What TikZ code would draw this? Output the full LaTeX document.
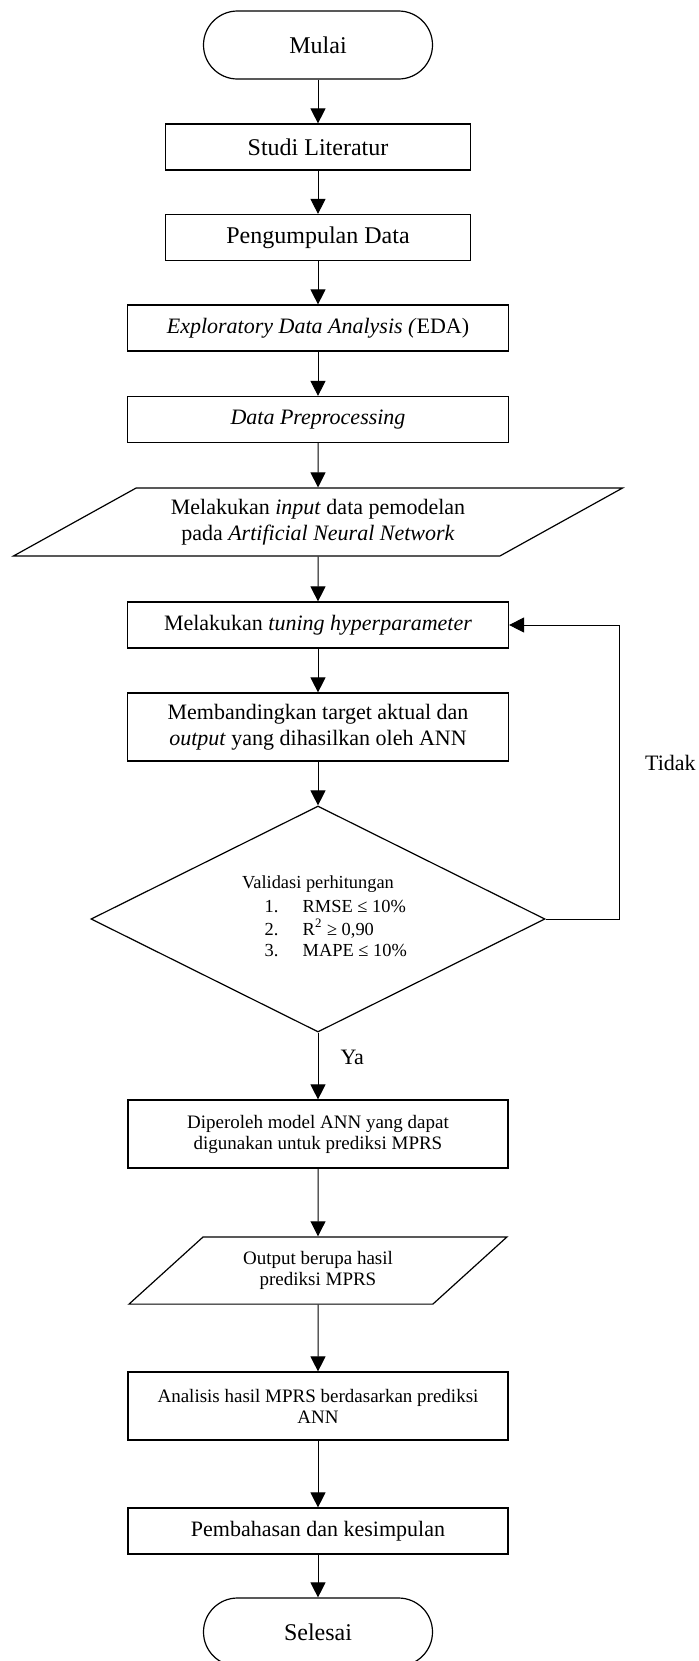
\documentclass[tikz,border=0pt]{standalone}
\usepackage{fontspec}
\setmainfont{Liberation Serif}
\usetikzlibrary{shapes.geometric, arrows.meta}
\tikzstyle{startstop} = [rectangle, rounded corners=17pt, minimum width=114.5pt, minimum height=34pt, text centered, draw=black, line width=0.6pt, font=\fontsize{12pt}{13pt}\selectfont]
\tikzstyle{process} = [rectangle, minimum width=190.5pt, minimum height=23pt, align=center, draw=black, line width=0.6pt, font=\fontsize{11pt}{13pt}\selectfont]
\tikzstyle{small} = [font=\fontsize{9.5pt}{10.5pt}\selectfont]
\tikzstyle{io} = [trapezium, trapezium stretches body, inner xsep=0pt, align=center, draw=black, line width=0.6pt, font=\fontsize{11pt}{13pt}\selectfont]
\tikzstyle{decision} = [diamond, aspect=2, inner sep=0pt, minimum width=227pt, minimum height=113pt, align=center, draw=black, line width=0.6pt, font=\fontsize{9.2pt}{10.5pt}\selectfont]
\tikzstyle{arrow} = [line width=0.5pt, -{Triangle[length=7.5pt,width=7.5pt]}]
\tikzstyle{answer} = [inner sep=0pt, anchor=west, font=\fontsize{11pt}{13pt}\selectfont]

\begin{document}
\begin{tikzpicture}[node distance=45.5pt]
          \useasboundingbox (0,0) rectangle (349pt,-830.5pt);
          \node (start) [startstop] at (159pt,-22.5pt) {Mulai}; %
          \node (stud)  [process, minimum width=152.5pt, font=\fontsize{12pt}{13pt}\selectfont, below of=start, node distance=51pt] {Studi Literatur}; %
          \node (data)  [process, minimum width=152.5pt, font=\fontsize{12pt}{13pt}\selectfont, below of=stud, node distance=45.25pt] {Pengumpulan Data}; %
          \node (eda)   [process, below of=data, node distance=45.25pt] {\textit{Exploratory Data Analysis (}EDA)}; %
          \node (prep)  [process, below of=eda, node distance=45.75pt] {\textit{Data Preprocessing}}; %
          \node (input) [io, trapezium left angle=29, trapezium right angle=151, minimum width=304.5pt, inner ysep=5.5pt, below of=prep, node distance=51.25pt] {Melakukan \textit{input} data pemodelan\\pada \textit{Artificial Neural Network}}; %
          \node (tune)  [process, below of=input, node distance=51.5pt] {Melakukan \textit{tuning hyperparameter}}; %
          \node (comp)  [process, minimum height=34pt, below of=tune, node distance=51pt] {Membandingkan target aktual dan\\\textit{output} yang dihasilkan oleh ANN}; %
          \node (valid) [decision, below of=comp, node distance=96pt] {Validasi perhitungan\\[2pt]
            \hspace*{17.8pt}\begin{tabular}{@{}p{19pt}@{}l@{}}
              1. & RMSE ≤ 10\% \\
              2. & R\textsuperscript{2} ≥ 0,90 \\
              3. & MAPE ≤ 10\%
            \end{tabular}}; %
          \node (model) [process, small, minimum width=190pt, minimum height=34pt, below of=valid, node distance=107.5pt] {Diperoleh model ANN yang dapat\\digunakan untuk prediksi MPRS}; %
          \node (out)   [io, small, trapezium left angle=42.2, trapezium right angle=137.8, minimum width=189pt, inner ysep=7.25pt, below of=model, node distance=68.25pt] {Output berupa hasil\\prediksi MPRS}; %
          \node (anal)  [process, small, minimum width=190pt, minimum height=34pt, below of=out, node distance=67.75pt] {Analisis hasil MPRS berdasarkan prediksi\\ANN}; %
          \node (disc)  [process, minimum width=190pt, below of=anal, node distance=62.5pt] {Pembahasan dan kesimpulan}; %
          \node (stop)  [startstop, below of=disc, node distance=50.5pt] {Selesai}; %

          %% Connections
          \draw [arrow] (start) -- (stud); %
          \draw [arrow] (stud)  -- (data); %
          \draw [arrow] (data)  -- (eda); %
          \draw [arrow] (eda)   -- (prep); %
          \draw [arrow] (prep)  -- (input); %
          \draw [arrow] (input) -- (tune); %
          \draw [arrow] (tune)  -- (comp); %
          \draw [arrow] (comp)  -- (valid); %
          \draw [arrow] (valid) -- node[answer, pos=0.37, xshift=11pt] {Ya} (model); %
          \draw [arrow] (valid.east) -- ++(37pt,0) |- node[answer, pos=0.265, xshift=12.5pt] {Tidak} (tune.east); %
          \draw [arrow] (model) -- (out); %
          \draw [arrow] (out)   -- (anal); %
          \draw [arrow] (anal)  -- (disc); %
          \draw [arrow] (disc)  -- (stop); %
        \end{tikzpicture}
\end{document}
